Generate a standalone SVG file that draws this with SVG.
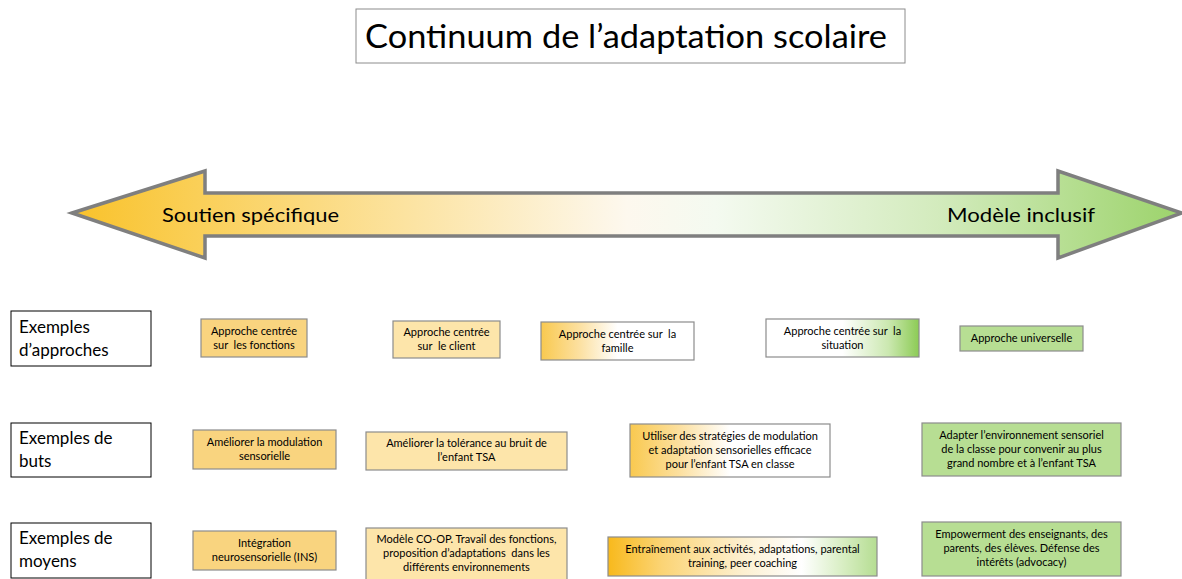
<svg xmlns="http://www.w3.org/2000/svg" width="1182" height="579" viewBox="0 0 1182 579">
<defs>
<linearGradient id="gArrow" x1="72" y1="0" x2="1182" y2="0" gradientUnits="userSpaceOnUse">
<stop offset="0" stop-color="#F9C22A"/>
<stop offset="0.12" stop-color="#FAD05A"/>
<stop offset="0.3" stop-color="#FCE3A0"/>
<stop offset="0.5" stop-color="#FDF8EE"/>
<stop offset="0.58" stop-color="#F4FAF0"/>
<stop offset="0.78" stop-color="#D3EBBD"/>
<stop offset="1" stop-color="#9CD36B"/>
</linearGradient>
<linearGradient id="gOW" x1="0" y1="0" x2="1" y2="0">
<stop offset="0" stop-color="#F9C94F"/>
<stop offset="0.25" stop-color="#FCE0A0"/>
<stop offset="0.5" stop-color="#FFFFFF"/>
<stop offset="1" stop-color="#FFFFFF"/>
</linearGradient>
<linearGradient id="gWG" x1="0" y1="0" x2="1" y2="0">
<stop offset="0" stop-color="#FFFFFF"/>
<stop offset="0.5" stop-color="#FFFFFF"/>
<stop offset="0.8" stop-color="#CBE8B0"/>
<stop offset="1" stop-color="#8CCB55"/>
</linearGradient>
<linearGradient id="gOWG" x1="0" y1="0" x2="1" y2="0">
<stop offset="0" stop-color="#F8B91C"/>
<stop offset="0.2" stop-color="#FBD475"/>
<stop offset="0.5" stop-color="#FDF0D0"/>
<stop offset="0.72" stop-color="#FFFFFF"/>
<stop offset="0.88" stop-color="#D6EDC0"/>
<stop offset="1" stop-color="#B5DD92"/>
</linearGradient>
</defs>
<style>
text{font-family:Lato,"Open Sans","Liberation Sans",sans-serif;fill:#000;white-space:pre}
.lab{fill:#fff;stroke:#000;stroke-width:1}
.box{stroke:#8C8C8C;stroke-width:1.2}
.o{fill:#F9D47F}
.l{fill:#FDE5AA}
.g{fill:#B7DE93}
.s{font-size:11px;text-anchor:middle}
.r{font-size:17px}
.a{font-size:20px}
</style>
<rect width="1182" height="579" fill="#fff"/>

<g id="title">
<rect x="356" y="9" width="549" height="54" fill="#fff" stroke="#8C8C8C" stroke-width="1"/>
<text x="365" y="48" font-size="32" textLength="522" lengthAdjust="spacingAndGlyphs">Continuum de l’adaptation scolaire</text>
</g>

<g id="continuum-arrow">
<path d="M72,213 L205,171 L205,193 L1058,193 L1058,171 L1182,213 L1058,258 L1058,236 L205,236 L205,258 Z" fill="url(#gArrow)" stroke="#7F7F7F" stroke-width="3.5" stroke-linejoin="miter"/>
<text class="a" x="162" y="222" textLength="177" lengthAdjust="spacingAndGlyphs">Soutien spécifique</text>
<text class="a" x="947" y="222" textLength="148" lengthAdjust="spacingAndGlyphs">Modèle inclusif</text>
</g>

<g id="label-approches">
<rect class="lab" x="11" y="311" width="140" height="55"/>
<text class="r" x="19" y="333">Exemples</text>
<text class="r" x="19" y="356">d’approches</text>
</g>
<g id="label-buts">
<rect class="lab" x="11" y="423" width="140" height="54"/>
<text class="r" x="19" y="444">Exemples de</text>
<text class="r" x="19" y="467">buts</text>
</g>
<g id="label-moyens">
<rect class="lab" x="11" y="523" width="140" height="55"/>
<text class="r" x="19" y="544">Exemples de</text>
<text class="r" x="19" y="567">moyens</text>
</g>

<g id="app1">
<rect class="box o" x="201" y="319" width="106" height="38"/>
<text class="s" x="254" y="335">Approche centrée</text>
<text class="s" x="254" y="349">sur  les fonctions</text>
</g>
<g id="app2">
<rect class="box l" x="393" y="321" width="107" height="37"/>
<text class="s" x="446.5" y="336">Approche centrée</text>
<text class="s" x="446.5" y="350">sur  le client</text>
</g>
<g id="app3">
<rect class="box" fill="url(#gOW)" x="541" y="322" width="153" height="38"/>
<text class="s" x="617.5" y="338">Approche centrée sur  la</text>
<text class="s" x="617.5" y="352">famille</text>
</g>
<g id="app4">
<rect class="box" fill="url(#gWG)" x="766" y="319" width="153" height="38"/>
<text class="s" x="842.5" y="335">Approche centrée sur  la</text>
<text class="s" x="842.5" y="349">situation</text>
</g>
<g id="app5">
<rect class="box g" x="960" y="326" width="123" height="25"/>
<text class="s" x="1021.5" y="342">Approche universelle</text>
</g>

<g id="but1">
<rect class="box o" x="193" y="430" width="143" height="39"/>
<text class="s" x="264.5" y="446">Améliorer la modulation</text>
<text class="s" x="264.5" y="460">sensorielle</text>
</g>
<g id="but2">
<rect class="box l" x="366" y="432" width="201" height="38"/>
<text class="s" x="466.5" y="447">Améliorer la tolérance au bruit de</text>
<text class="s" x="466.5" y="461">l’enfant TSA</text>
</g>
<g id="but3">
<rect class="box" fill="url(#gOW)" x="630" y="424" width="200" height="53"/>
<text class="s" x="730" y="440">Utiliser des stratégies de modulation</text>
<text class="s" x="730" y="454">et adaptation sensorielles efficace</text>
<text class="s" x="730" y="468">pour l’enfant TSA en classe</text>
</g>
<g id="but4">
<rect class="box g" x="922" y="423" width="199" height="53"/>
<text class="s" x="1021.5" y="439">Adapter l’environnement sensoriel</text>
<text class="s" x="1021.5" y="453">de la classe pour convenir au plus</text>
<text class="s" x="1021.5" y="467">grand nombre et à l’enfant TSA</text>
</g>

<g id="moy1">
<rect class="box o" x="193" y="531" width="143" height="39"/>
<text class="s" x="264.5" y="547">Intégration</text>
<text class="s" x="264.5" y="561">neurosensorielle (INS)</text>
</g>
<g id="moy2">
<rect class="box l" x="366" y="528" width="201" height="55"/>
<text class="s" x="466.5" y="543">Modèle CO-OP. Travail des fonctions,</text>
<text class="s" x="466.5" y="557">proposition d’adaptations  dans les</text>
<text class="s" x="466.5" y="571">différents environnements</text>
</g>
<g id="moy3">
<rect class="box" fill="url(#gOWG)" x="608" y="537" width="269" height="39"/>
<text class="s" x="742.5" y="553">Entraînement aux activités, adaptations, parental</text>
<text class="s" x="742.5" y="567">training, peer coaching</text>
</g>
<g id="moy4">
<rect class="box g" x="922" y="522" width="199" height="54"/>
<text class="s" x="1021.5" y="538">Empowerment des enseignants, des</text>
<text class="s" x="1021.5" y="552">parents, des élèves. Défense des</text>
<text class="s" x="1021.5" y="566">intérêts (advocacy)</text>
</g>

<g id="connectors"></g>
</svg>
